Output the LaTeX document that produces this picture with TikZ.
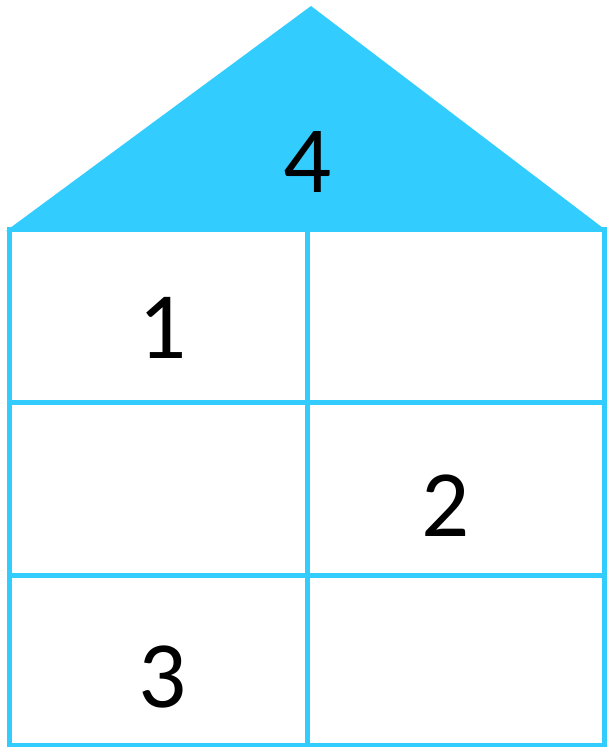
\documentclass[tikz,border=0pt]{standalone}
\usepackage{fontspec}
\newfontfamily\housefont{Carlito}
\definecolor{roofblue}{HTML}{33CCFF}

\begin{document}
\begin{tikzpicture}[
  x=1pt, y=-1pt,
  wall/.style={draw=roofblue, line width=5pt},
  digit/.style={font=\housefont\fontsize{95}{95}\selectfont, inner sep=0pt},
]
\useasboundingbox (0,0) rectangle (607,747);

% Roof (filled triangle)
\coordinate (eaveL) at (6,231);
\coordinate (apex)  at (311,6);
\coordinate (eaveR) at (607,231);
\fill[roofblue] (eaveL) -- (apex) -- (eaveR) -- cycle;

% House: outer frame, one column split, two row splits
\draw[wall] (9,229) rectangle (604,745);
\draw[wall] (307,229) -- (307,745);
\draw[wall] (9,402) -- (604,402);
\draw[wall] (9,575) -- (604,575);

% Numbers
\node[digit] (four)  at (308,162) {4};
\node[digit] (one)   at (163,328) {1};
\node[digit] (two)   at (446,506) {2};
\node[digit] (three) at (163,677) {3};

\end{tikzpicture}
\end{document}
